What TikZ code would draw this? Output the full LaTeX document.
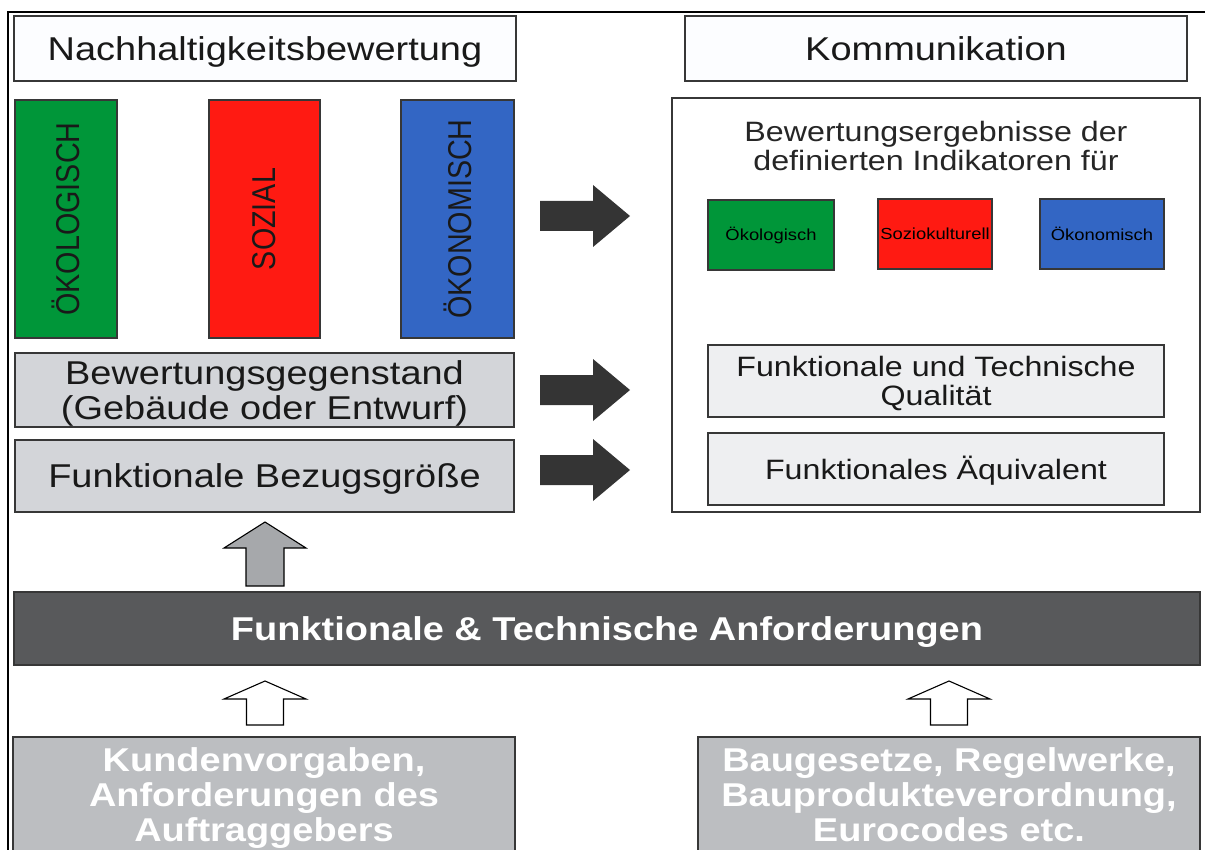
\documentclass[tikz,border=0pt]{standalone}
\usepackage{fontspec}
\setmainfont{Liberation Sans}[FakeStretch=1.15]
\newfontfamily\narrowfont{Liberation Sans}[FakeStretch=0.87]
\usetikzlibrary{positioning}

\definecolor{oekogreen}{RGB}{0,150,57}
\definecolor{sozred}{RGB}{255,26,18}
\definecolor{oekoblue}{RGB}{51,102,196}
\definecolor{headfill}{RGB}{252,253,255}
\definecolor{objgray}{RGB}{211,213,217}
\definecolor{qualgray}{RGB}{238,239,241}
\definecolor{bardark}{RGB}{88,89,91}
\definecolor{srcgray}{RGB}{188,190,193}
\definecolor{upgray}{RGB}{166,168,171}
\definecolor{arrowdark}{RGB}{52,52,52}
\definecolor{edgegray}{RGB}{55,55,55}

\newcommand{\fsHead}{\fontsize{33}{35}\selectfont}
\newcommand{\fsMid}{\fontsize{28}{29}\selectfont}
\newcommand{\fsSmall}{\fontsize{16}{18}\selectfont}
\newcommand{\fsBar}{\narrowfont\fontsize{33}{35}\selectfont}
\newcommand{\lnstrut}{\rule{0pt}{0.93em}}

\tikzstyle{box} = [draw=edgegray, line width=1.2pt, rectangle, inner sep=0pt, align=center, text=black!90]
\tikzstyle{tstrut} = [execute at begin node={\rule{0pt}{0.93em}}, execute at end node={\rule[-0.21em]{0pt}{0.21em}}]
\tikzstyle{bar} = [box, rotate=90, minimum width=238, font=\fsBar]
\tikzstyle{indic} = [box, minimum height=70, font=\fsSmall, text=black]
\tikzstyle{src} = [box, fill=srcgray, minimum width=502, minimum height=116, text=white, font=\fsHead\bfseries]

\tikzset{
  darkarrow/.pic={\fill[arrowdark] (-45,-15) -- (8,-15) -- (8,-31) -- (45,0) -- (8,31) -- (8,15) -- (-45,15) -- cycle;},
  tallup/.pic={\path[pic actions] (-19,32) -- (-19,-6) -- (-41,-6) -- (0,-32) -- (41,-6) -- (19,-6) -- (19,32) -- cycle;},
  shortup/.pic={\path[pic actions] (-18.5,22) -- (-18.5,-4) -- (-41,-4) -- (0,-22) -- (41,-4) -- (18.5,-4) -- (18.5,22) -- cycle;}
}

\begin{document}
\begin{tikzpicture}[x=1pt, y=-1pt]
  \useasboundingbox (0,0) rectangle (1205,850);
  \clip (0,0) rectangle (1205,850);

  % frame
  \draw[line width=2pt] (8,12) rectangle (1230,880);

  % Nachhaltigkeitsbewertung
  \node[box, tstrut, fill=headfill, minimum width=502, minimum height=65, font=\fsHead] (nach) at (265,48.5) {Nachhaltigkeitsbewertung};
  \node[bar, fill=oekogreen, minimum height=102] (oeko) at (66,219) {ÖKOLOGISCH};
  \node[bar, fill=sozred, minimum height=111] (sozial) at (264.5,219) {SOZIAL};
  \node[bar, fill=oekoblue, minimum height=113] (oekon) at (457.5,219) {ÖKONOMISCH};
  \node[box, fill=objgray, minimum width=499, minimum height=74, font=\fsHead] (gegen) at (264.5,390) {\lnstrut Bewertungsgegenstand\\(Gebäude oder Entwurf)};
  \node[box, tstrut, fill=objgray, minimum width=499, minimum height=72, font=\fsHead] (bezug) at (264.5,476) {Funktionale Bezugsgröße};

  % Kommunikation
  \node[box, tstrut, fill=headfill, minimum width=502, minimum height=65, font=\fsHead] (komm) at (936,48.5) {Kommunikation};
  \node[box, fill=white, minimum width=528, minimum height=414] (ergebbox) at (936,305) {};
  \node[align=center, font=\fsMid, text=black!85] (ergeb) at (936,146) {Bewertungsergebnisse der\\definierten Indikatoren für};
  \node[indic, fill=oekogreen, minimum width=126] (kgruen) at (771,235) {Ökologisch};
  \node[indic, fill=sozred, minimum width=114] (krot) at (935,234) {Soziokulturell};
  \node[indic, fill=oekoblue, minimum width=124] (kblau) at (1102,234) {Ökonomisch};
  \node[box, fill=qualgray, minimum width=456, minimum height=72, font=\fsMid] (qual) at (936,381) {\lnstrut Funktionale und Technische\\Qualität};
  \node[box, tstrut, fill=qualgray, minimum width=456, minimum height=72, font=\fsMid] (aequi) at (936,469) {Funktionales Äquivalent};

  % arrows to the right
  \pic at (585,216) {darkarrow};
  \pic at (585,390) {darkarrow};
  \pic at (585,470) {darkarrow};

  % Anforderungen
  \node[box, tstrut, fill=bardark, minimum width=1186, minimum height=73, text=white, font=\fsHead\bfseries] (anf) at (607,628.5) {Funktionale \& Technische Anforderungen};
  \pic[fill=upgray, draw=black, line width=1.1pt] at (265,554) {tallup};
  \pic[fill=white, draw=black, line width=1.1pt] at (265,703) {shortup};
  \pic[fill=white, draw=black, line width=1.1pt] at (949,703) {shortup};

  % sources
  \node[src] (kunde) at (264,795) {\lnstrut Kundenvorgaben,\\Anforderungen des\\Auftraggebers};
  \node[src] (gesetz) at (949,795) {Baugesetze, Regelwerke,\\Bauprodukteverordnung,\\Eurocodes etc.};
\end{tikzpicture}
\end{document}
